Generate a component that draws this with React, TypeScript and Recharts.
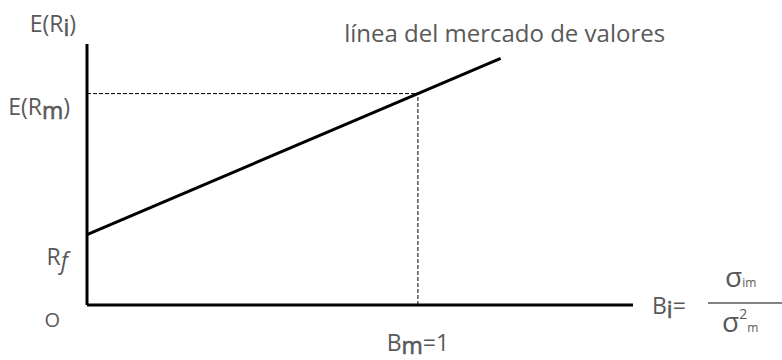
import { LineChart, Line, XAxis, YAxis, ReferenceLine, LabelList } from 'recharts';

// security market line (beta vs expected return)
const BETA = [0, 1, 1.25];
const EXPECTED_RETURN = [2.7, 8.1, 9.45];
const RISK_FREE = 2.7;
const MARKET_RETURN = 8.1;
const MARKET_BETA = 1;
const Y_TICKS = [0, RISK_FREE, MARKET_RETURN, 10];
const X_TICKS = [MARKET_BETA];
const LINE_TITLE = 'línea del mercado de valores';

const data = BETA.map((b, i) => ({ beta: b, ret: EXPECTED_RETURN[i] }));

const TEXT = '#595959';
const FONT = '"Open Sans", sans-serif';

// label offsets for each y tick: O, Rf, E(Rm), E(Ri)
const Y_LABEL_POS = [
    { dx: -27, dy: 22 },
    { dx: -19, dy: 30 },
    { dx: -17, dy: 21 },
    { dx: -11, dy: -12 },
];

// subscripts in the reference are a little heavier than the text
const sub = { stroke: TEXT, strokeWidth: 0.6 };

function YTick({ x, y, payload }: any) {
    const i = Y_TICKS.indexOf(payload.value);
    const pos = Y_LABEL_POS[i];
    const labels = [
        <tspan fontSize={20}>O</tspan>,
        <>R<tspan fontStyle="italic" dy={4}>f</tspan></>,
        <>E(R<tspan {...sub} dy={4}>m</tspan><tspan dy={-4}>)</tspan></>,
        <>E(R<tspan {...sub} dy={4}>i</tspan><tspan dy={-4}>)</tspan></>,
    ];
    return (
        <text x={x + pos.dx} y={y + pos.dy} textAnchor="end" fill={TEXT} fontSize={23} fontFamily={FONT}>
            {labels[i]}
        </text>
    );
}

function XTick({ x, y }: any) {
    return (
        <text x={x} y={y + 46} textAnchor="middle" fill={TEXT} fontSize={23} fontFamily={FONT}>
            B<tspan {...sub} dy={3}>m</tspan><tspan dy={-3}>=1</tspan>
        </text>
    );
}

function BetaFormula({ viewBox }: any) {
    const { x, y, width } = viewBox;
    const x0 = x + width;
    return (
        <g fill={TEXT} fontFamily={FONT}>
            <text x={x0 + 19} y={y + 9} fontSize={23}>
                B<tspan {...sub} dy={4}>i</tspan><tspan dy={-4}>=</tspan>
            </text>
            <line x1={x0 + 75} x2={x0 + 149} y1={y - 2} y2={y - 2} stroke={TEXT} strokeWidth={1.5} />
            <text x={x0 + 92} y={y - 18} fontSize={28}>
                σ<tspan fontSize={12}>im</tspan>
            </text>
            <text x={x0 + 89} y={y + 27} fontSize={28}>
                σ<tspan fontSize={14} dy={-13}>2</tspan><tspan fontSize={12} dy={13}>m</tspan>
            </text>
        </g>
    );
}

function TitleLabel({ x, y, index }: any) {
    if (index !== data.length - 1) return null;
    return (
        <text x={x + 4} y={y - 16} textAnchor="middle" fill={TEXT} fontSize={24} fontFamily={FONT}>
            {LINE_TITLE}
        </text>
    );
}

export default function App() {
    return (
        <div style={{ position: 'absolute', left: 0, top: 0, width: 782, height: 360, background: '#fff' }}>
            <LineChart width={782} height={360} data={data} margin={{ top: 44, right: 149, bottom: 0, left: 0 }}>
                <XAxis
                    dataKey="beta"
                    type="number"
                    domain={[0, 1.65]}
                    ticks={X_TICKS}
                    height={55}
                    axisLine={{ stroke: '#000', strokeWidth: 3 }}
                    tickLine={false}
                    tickSize={0}
                    tickMargin={0}
                    tick={<XTick />}
                    label={<BetaFormula />}
                />
                <YAxis
                    type="number"
                    domain={[0, 10]}
                    ticks={Y_TICKS}
                    interval={0}
                    width={87}
                    axisLine={{ stroke: '#000', strokeWidth: 3 }}
                    tickLine={false}
                    tickSize={0}
                    tickMargin={0}
                    tick={<YTick />}
                />
                <ReferenceLine
                    segment={[{ x: 0, y: MARKET_RETURN }, { x: MARKET_BETA, y: MARKET_RETURN }]}
                    stroke="#000"
                    strokeWidth={1}
                    strokeDasharray="4 2"
                />
                <ReferenceLine
                    segment={[{ x: MARKET_BETA, y: 0 }, { x: MARKET_BETA, y: MARKET_RETURN }]}
                    stroke="#000"
                    strokeWidth={1}
                    strokeDasharray="4 2"
                />
                <Line
                    dataKey="ret"
                    stroke="#000"
                    strokeWidth={3}
                    dot={false}
                    activeDot={false}
                    isAnimationActive={false}
                >
                    <LabelList dataKey="ret" content={<TitleLabel />} />
                </Line>
            </LineChart>
        </div>
    );
}
